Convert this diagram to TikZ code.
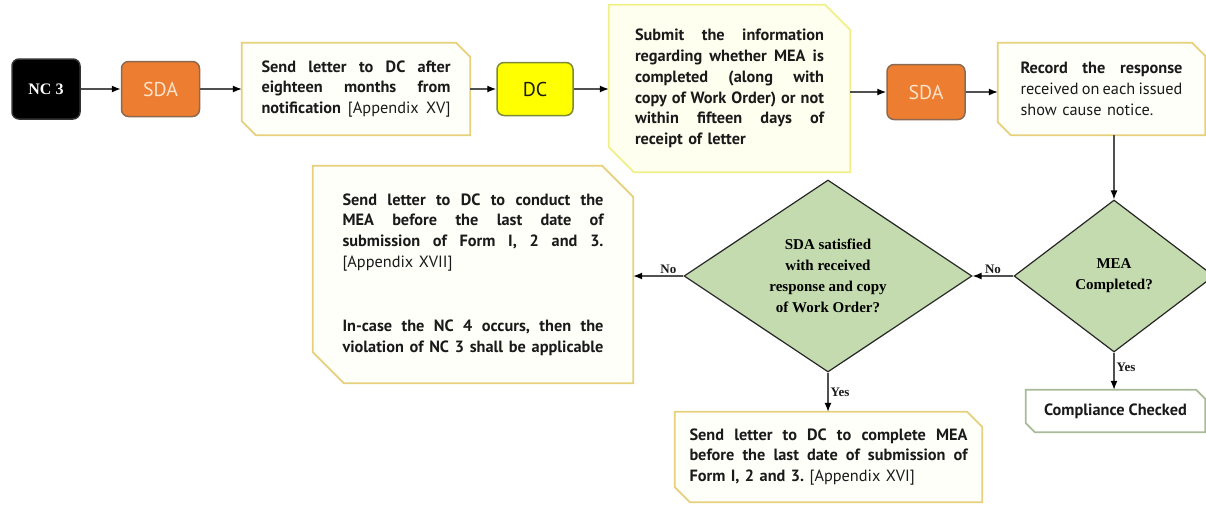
\documentclass[tikz,border=0pt]{standalone}
\usepackage{fontspec}
\setmainfont{PT Sans}
\newfontfamily\tnr{Liberation Serif}
\usetikzlibrary{shapes.geometric,arrows.meta,backgrounds}
\definecolor{ink}{HTML}{1A1A1A}
\definecolor{sdaor}{HTML}{ED7D31}
\definecolor{sdabd}{HTML}{8C6A50}
\definecolor{sdatx}{HTML}{FBE3CC}
\definecolor{dcy}{HTML}{FFFF00}
\definecolor{dcbd}{HTML}{7C8A3A}
\definecolor{gold}{HTML}{E6D07C}
\definecolor{paley}{HTML}{F0F08A}
\definecolor{cream}{HTML}{FFFFFA}
\definecolor{creamy}{HTML}{FFFFF0}
\definecolor{diag}{HTML}{C3DBAE}
\definecolor{compbd}{HTML}{A8BA98}
\definecolor{arrc}{HTML}{505050}
\newcommand\JL[2]{\makebox[#1][s]{\spaceskip=0pt\xspaceskip=0pt\relax #2}}
\newcommand\chamf[4]{%
  \draw[line width=1.8pt, draw=#3, fill=#4] (#1.north west) -- ([xshift=-#2pt]#1.north east)
    -- ([yshift=-#2pt]#1.north east) -- (#1.south east) -- ([xshift=#2pt]#1.south west)
    -- ([yshift=#2pt]#1.south west) -- cycle;}
\begin{document}
\begin{tikzpicture}[x=1pt,y=-1pt,
  txt/.style={font=\fontsize{16.3}{20.8}\selectfont\bfseries\frenchspacing, text=ink, align=left, inner sep=0pt},
  rbox/.style={rectangle, rounded corners=7pt, line width=1.5pt, inner sep=0pt},
  sdabox/.style={rbox, fill=sdaor, draw=sdabd, text=sdatx, minimum width=78pt, minimum height=55pt, font=\fontsize{20}{24}\selectfont},
  dia/.style={diamond, draw=black!85, line width=1.2pt, fill=diag, inner sep=0pt, align=center,
    font=\tnr\bfseries\fontsize{15}{21}\selectfont},
  lab/.style={font=\tnr\bfseries\fontsize{13}{15}\selectfont, text=ink, inner sep=2pt},
  arr/.style={-{Latex[length=9pt,width=7pt,color=black]}, line width=1.3pt, draw=arrc}]
\useasboundingbox (0,0) rectangle (1206,504);

% top row
\node[rbox, fill=black, draw=black!80, text=white, minimum width=68pt, minimum height=60pt,
  font=\tnr\bfseries\fontsize{16}{19}\selectfont] (nc3) at (46,89) {NC 3};
\node[sdabox] (sda1) at (160.5,89) {SDA};
\node[txt, minimum width=228pt, minimum height=92pt, text width=189pt] (b1) at (356,89)
  {\JL{189pt}{Send letter to DC after}\\\JL{189pt}{eighteen months from}\\\JL{189pt}{notification {\mdseries[Appendix XV]}}};
\node[rbox, fill=dcy, draw=dcbd, text=ink, minimum width=76pt, minimum height=53pt,
  font=\fontsize{20}{24}\selectfont] (dc) at (535,89) {DC};
\node[txt, minimum width=241pt, minimum height=167pt, text width=189pt] (b2) at (729.5,88.5)
  {\JL{189pt}{Submit the information}\\\JL{189pt}{regarding whether MEA is}\\\JL{189pt}{completed (along with}\\\JL{189pt}{copy of Work Order) or not}\\\JL{189pt}{within fifteen days of}\\receipt of letter};
\node[sdabox] (sda2) at (926,92) {SDA};
\node[txt, minimum width=207pt, minimum height=92pt, text width=162pt] (b3) at (1101.5,89)
  {\JL{162pt}{Record the response}\\\JL{162pt}{\mdseries received on each issued}\\{\mdseries show cause notice.}};

% decisions
\node[dia, minimum width=200pt, minimum height=152pt, shape aspect=1.3] (mea) at (1114,276) {MEA\\Completed?};
\node[dia, minimum width=288pt, minimum height=192pt, shape aspect=1.5] (sat) at (828,276)
  {SDA satisfied\\with received\\response and copy\\of Work Order?};

% lower boxes
\node[txt, minimum width=320pt, minimum height=217pt, text width=261pt] (b4) at (473,274.5)
  {\JL{261pt}{Send letter to DC to conduct the}\\\JL{261pt}{MEA before the last date of}\\\JL{261pt}{submission of Form I, 2 and 3.}\\{\mdseries[Appendix XVII]}\\[43pt]\JL{261pt}{In-case the NC 4 occurs, then the}\\\JL{261pt}{violation of NC 3 shall be applicable}};
\node[txt, minimum width=307pt, minimum height=90pt, text width=278pt] (b5) at (828.5,457)
  {\JL{278pt}{Send letter to DC to complete MEA}\\\JL{278pt}{before the last date of submission of}\\Form I, 2 and 3. {\mdseries[Appendix XVI]}};
\node[txt, align=center, minimum width=179pt, minimum height=42pt] (comp) at (1115.5,411) {Compliance Checked};

\begin{pgfonlayer}{background}
\chamf{b1}{14}{gold}{cream}
\chamf{b2}{25}{paley}{creamy}
\chamf{b3}{13}{gold}{cream}
\chamf{b4}{31}{gold}{cream}
\chamf{b5}{15}{gold}{cream}
\chamf{comp}{9}{compbd}{white}
\end{pgfonlayer}

% connectors
\draw[arr] (nc3) -- (sda1);
\draw[arr] (sda1) -- (b1);
\draw[arr] (b1) -- (dc);
\draw[arr] (dc) -- (b2.west |- dc.east);
\draw[arr] (b2.east |- sda2.west) -- (sda2.west);
\draw[arr] (sda2.east) -- (b3.west |- sda2.east);
\draw[arr] (mea.north |- b3.south) -- (mea.north);
\draw[arr] (mea.west) -- node[lab, above] {No} (sat.east);
\draw[arr] (sat.west) -- node[lab, above, pos=0.3] {No} (b4.east |- sat.west);
\draw[arr] (sat.south) -- node[lab, right] {Yes} (sat.south |- b5.north);
\draw[arr] (mea.south) -- node[lab, right, pos=0.4] {Yes} (mea.south |- comp.north);
\end{tikzpicture}
\end{document}
